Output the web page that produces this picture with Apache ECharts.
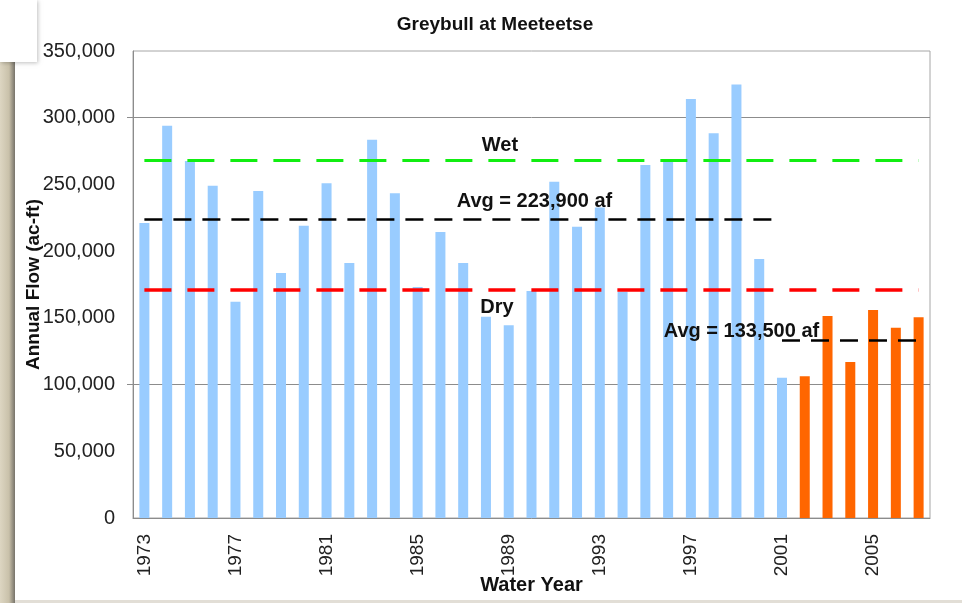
<!DOCTYPE html>
<html>
<head>
<meta charset="utf-8">
<title>Greybull at Meeteetse</title>
<script src="https://cdn.jsdelivr.net/npm/echarts@6/dist/echarts.min.js"></script>
<style>
  html, body { margin: 0; padding: 0; background: #fff; }
  #chart { width: 962px; height: 603px; }
</style>
</head>
<body>
<div id="chart"></div>
<script>
const years = ['1973', '1974', '1975', '1976', '1977', '1978', '1979', '1980', '1981', '1982',
  '1983', '1984', '1985', '1986', '1987', '1988', '1989', '1990', '1991', '1992',
  '1993', '1994', '1995', '1996', '1997', '1998', '1999', '2000', '2001',
  '2002', '2003', '2004', '2005', '2006', '2007']
// 1973-2001 (blue) then 2002-2007 (orange)
const flowHist = [221000, 294000, 267600, 249000, 162000, 245000, 183600, 219000, 250800, 191100,
  283500, 243300, 173100, 214300, 191100, 150900, 144400, 170100, 252100, 218300,
  232800, 169600, 264600, 267800, 314000, 288300, 324800, 194100, 105200]
const flowRecent = [106200, 151400, 116900, 155900, 142600, 150400]
const yTicks = [0, 50000, 100000, 150000, 200000, 250000, 300000, 350000]
const wetLevel = 268400
const dryLevel = 171200
const avgHist = 223900
const avgRecent = 133500

const font = "'Liberation Sans', Arial, sans-serif"
const blue = '#99CCFF'
const orange = '#FF6600'

let barData = flowHist.map((v) => ({ value: v, itemStyle: { color: blue } }))
  .concat(flowRecent.map((v) => ({ value: v, itemStyle: { color: orange } })))

let chart = echarts.init(document.getElementById('chart'))
let option = {
  animation: false,
  backgroundColor: '#fff',
  textStyle: { fontFamily: font },
  title: {
    text: 'Greybull at Meeteetse',
    left: 490,
    textAlign: 'center',
    top: 10,
    textStyle: { fontFamily: font, fontSize: 19, fontWeight: 'bold', color: '#111' },
  },
  graphic: [
    // slide frame leftovers
    {
      type: 'rect', left: 0, top: 62, z: 100,
      shape: { width: 15, height: 541 },
      style: {
        fill: new echarts.graphic.LinearGradient(0, 0, 1, 0, [
          { offset: 0, color: '#ddd6c2' },
          { offset: 0.6, color: '#c9c1aa' },
          { offset: 1, color: '#77736a' },
        ]),
      },
    },
    {
      type: 'rect', left: 0, top: 0, z: 101,
      shape: { width: 37, height: 62 },
      style: { fill: '#fff', shadowColor: 'rgba(0,0,0,0.25)', shadowBlur: 4, shadowOffsetX: 1, shadowOffsetY: 1 },
    },
    {
      type: 'rect', left: 15, top: 600, z: 100,
      shape: { width: 947, height: 3 },
      style: { fill: '#e2ded6' },
    },
  ],
  grid: {
    left: 133,
    right: 32,
    top: 51,
    bottom: 85,
    outerBoundsMode: 'none',
    show: true,
    borderColor: '#a6a6a6',
    borderWidth: 1,
  },
  xAxis: {
    type: 'category',
    data: years,
    name: 'Water Year',
    nameLocation: 'middle',
    nameGap: 57,
    nameMoveOverlap: false,
    nameTextStyle: { fontFamily: font, fontSize: 20, fontWeight: 'bold', color: '#111' },
    axisLine: { lineStyle: { color: '#8c8c8c' } },
    axisTick: { interval: 0, length: 5, lineStyle: { color: '#8c8c8c' } },
    axisLabel: {
      interval: 3,
      rotate: 90,
      margin: 16,
      fontFamily: font,
      fontSize: 19,
      color: '#222',
    },
  },
  yAxis: {
    type: 'value',
    min: 0,
    max: 350000,
    interval: 50000,
    name: 'Annual Flow (ac-ft)',
    nameLocation: 'middle',
    nameGap: 90,
    nameMoveOverlap: false,
    nameTextStyle: { fontFamily: font, fontSize: 19, fontWeight: 'bold', color: '#111' },
    axisLine: { show: true, lineStyle: { color: '#8c8c8c' } },
    axisTick: { show: true, length: 6, customValues: [100000, 300000], lineStyle: { color: '#8c8c8c' } },
    axisLabel: {
      margin: 18,
      fontFamily: font,
      fontSize: 20,
      color: '#222',
      customValues: yTicks,
      formatter: (v) => v.toLocaleString('en-US'),
    },
    splitLine: { show: true, lineStyle: { color: '#8c8c8c', width: 1 } },
  },
  series: [
    {
      type: 'bar',
      data: barData,
      barWidth: 10,
      markLine: {
        silent: true,
        symbol: 'none',
        label: { show: false },
        data: [
          [
            { coord: ['1973', wetLevel], lineStyle: { color: '#11ee11', width: 3, type: [27, 16] } },
            { coord: ['2007', wetLevel] },
          ],
          [
            { coord: ['1973', dryLevel], lineStyle: { color: '#ff0000', width: 3.5, type: [27, 16] } },
            { coord: ['2007', dryLevel] },
          ],
          [
            { coord: ['1973', avgHist], lineStyle: { color: '#000', width: 2.5, type: [18, 11] } },
            { coord: ['2001', avgHist] },
          ],
          [
            { coord: ['2001', avgRecent], lineStyle: { color: '#000', width: 2.5, type: [18, 11] } },
            { coord: ['2007', avgRecent] },
          ],
        ],
      },
      markPoint: {
        silent: true,
        symbol: 'circle',
        symbolSize: 0,
        label: {
          show: true,
          position: 'inside',
          fontFamily: font,
          fontSize: 20,
          fontWeight: 'bold',
          color: '#111',
        },
        data: [
          { coord: ['1988', 279000], value: 'Wet', label: { offset: [14, 0] } },
          { coord: ['1990', 237500], value: 'Avg = 223,900 af', label: { offset: [3, 0] } },
          { coord: ['1988', 157500], value: 'Dry', label: { offset: [11, 0] } },
          { coord: ['1999', 140000], value: 'Avg = 133,500 af', label: { offset: [5, 0] } },
        ],
      },
    },
  ],
}
chart.setOption(option)
window.addEventListener('resize', () => {
  chart.resize()
})
</script>
</body>
</html>
